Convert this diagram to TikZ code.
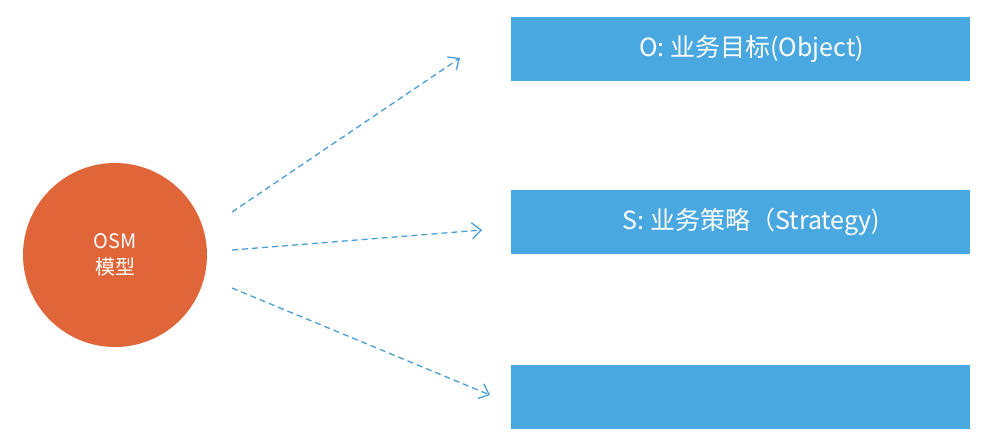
\documentclass[tikz,border=0pt]{standalone}
\usepackage{fontspec}
\setmainfont{Noto Sans CJK SC}
\usetikzlibrary{arrows.meta}
\definecolor{circ}{HTML}{E0663A}
\definecolor{boxc}{HTML}{4AA8E0}
\definecolor{arr}{HTML}{4A9ED6}
\tikzset{
  bar/.style={fill=boxc,draw=none,minimum width=459pt,minimum height=64pt,anchor=north west,inner sep=0pt,text=white,font=\fontsize{25}{28}\selectfont},
  conn/.style={draw=arr,line width=1.3pt,dash pattern=on 6pt off 4pt,-{Straight Barb[length=9pt,width=16pt,line width=1.3pt]}}
}
\begin{document}
\begin{tikzpicture}[x=1pt,y=-1pt]
\useasboundingbox (0,0) rectangle (987,442);
\node[circle,fill=circ,minimum size=184pt,inner sep=0pt,text=white,align=center,font=\fontsize{20}{26}\selectfont] (c) at (115,255) {OSM\\模型};
\node[bar] (o) at (511,17) {\hspace{22pt}O: 业务目标(Object)\hfill};
\node[bar] (s) at (511,190) {\hspace{22pt}S: 业务策略（Strategy)\hfill};
\node[bar] (m) at (511,365) {};
\coordinate (a1s) at (232,212); \coordinate (a1e) at (460,58);
\coordinate (a2s) at (232,250); \coordinate (a2e) at (482,230);
\coordinate (a3s) at (232,288); \coordinate (a3e) at (490,395);
\draw[conn] (a1s) -- (a1e);
\draw[conn] (a2s) -- (a2e);
\draw[conn] (a3s) -- (a3e);
\end{tikzpicture}
\end{document}
